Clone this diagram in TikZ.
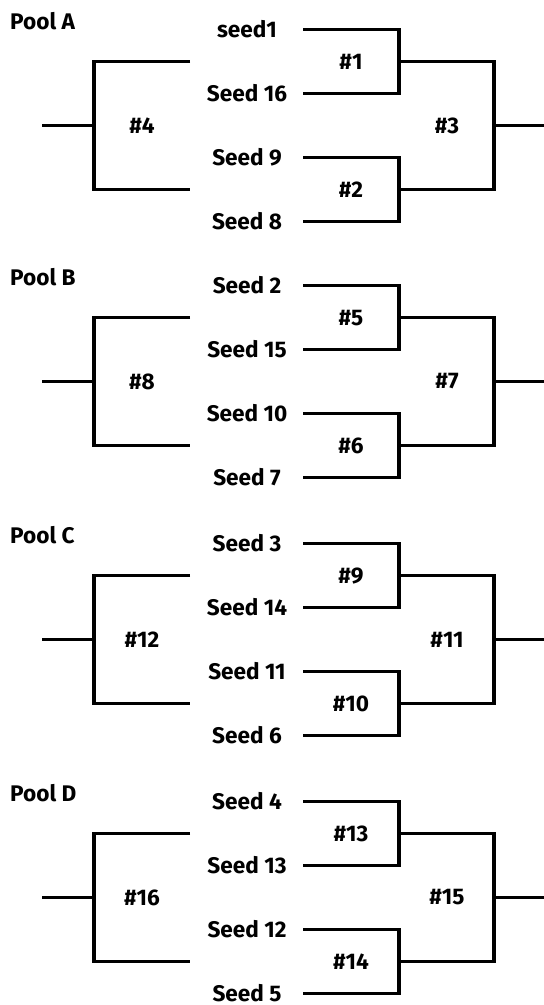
\documentclass[tikz,border=0pt]{standalone}
\usepackage{fontspec}
\setmainfont{Fira Sans}
\begin{document}
\begin{tikzpicture}[x=1pt,y=-1pt,
  lbl/.style={font=\fontsize{22.6}{26}\selectfont\bfseries, inner sep=0pt},
  bracket/.style={line width=3.3pt, line join=miter, line cap=butt}]
\useasboundingbox (0,0) rectangle (544,1005);
\foreach \p/\dy/\sa/\sb/\sc/\sd/\n in {
    A/0/seed1/Seed 16/Seed 9/Seed 8/0,
    B/256/Seed 2/Seed 15/Seed 10/Seed 7/1,
    C/514/Seed 3/Seed 14/Seed 11/Seed 6/2,
    D/772/Seed 4/Seed 13/Seed 12/Seed 5/3} {
  \begin{scope}[yshift=-\dy pt]
    \pgfmathtruncatemacro{\ma}{4*\n+1}
    \pgfmathtruncatemacro{\mb}{4*\n+2}
    \pgfmathtruncatemacro{\mc}{4*\n+3}
    \pgfmathtruncatemacro{\md}{4*\n+4}
    % pool title
    \node[lbl, anchor=west] (\p-title) at (10,21) {Pool \p};
    % seed names
    \node[lbl] (\p-s1) at (247,29.5) {\sa};
    \node[lbl] (\p-s2) at (247,93.5) {\sb};
    \node[lbl] (\p-s3) at (247,157.5) {\sc};
    \node[lbl] (\p-s4) at (247,221.5) {\sd};
    % match numbers
    \node[lbl] (\p-m1) at (351,62) {\#\ma};
    \node[lbl] (\p-m2) at (351,190) {\#\mb};
    \node[lbl] (\p-m3) at (447,125.5) {\#\mc};
    \node[lbl] (\p-m4) at (142,125.5) {\#\md};
    % line ends
    \coordinate (\p-a1) at (303,29.5);
    \coordinate (\p-a2) at (303,93.5);
    \coordinate (\p-a3) at (303,157.5);
    \coordinate (\p-a4) at (303,221.5);
    \coordinate (\p-j1) at (399,61.5);
    \coordinate (\p-j2) at (399,189.5);
    \coordinate (\p-k) at (494,125.5);
    \coordinate (\p-out) at (544,125.5);
    \coordinate (\p-l1) at (190,61.5);
    \coordinate (\p-l2) at (190,189.5);
    \coordinate (\p-w) at (94,125.5);
    \coordinate (\p-in) at (42,125.5);
    % first-round brackets
    \draw[bracket] (\p-a1) -| (\p-j1) |- (\p-a2);
    \draw[bracket] (\p-a3) -| (\p-j2) |- (\p-a4);
    % second-round bracket
    \draw[bracket] (\p-j1) -| (\p-k) |- (\p-j2);
    \draw[bracket] (\p-k) -- (\p-out);
    % left-side bracket
    \draw[bracket] (\p-l1) -| (\p-w) |- (\p-l2);
    \draw[bracket] (\p-in) -- (\p-w);
  \end{scope}
}
\end{tikzpicture}
\end{document}
